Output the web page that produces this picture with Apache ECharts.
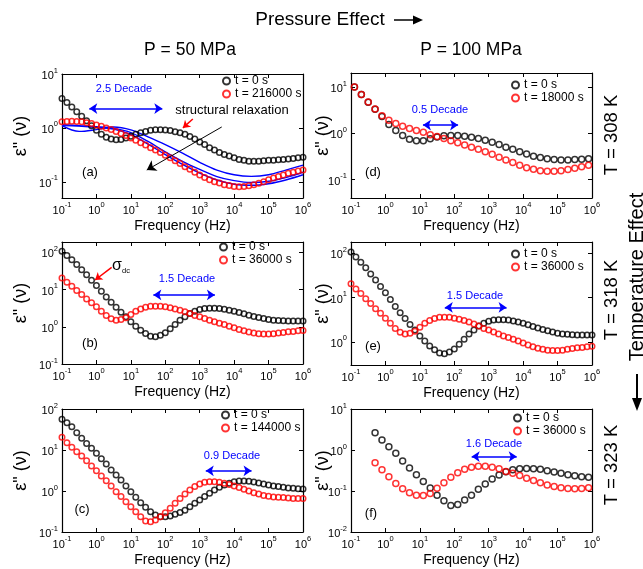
<!DOCTYPE html>
<html>
<head>
<meta charset="utf-8">
<title>Dielectric loss vs frequency</title>
<script src="https://cdn.jsdelivr.net/npm/echarts@6.0.0/dist/echarts.min.js"></script>
<style>
html, body { margin: 0; padding: 0; background: #fff; }
#main { width: 643px; height: 569px; }
</style>
</head>
<body>
<div id="main"></div>
<script>
var FONT = 'Liberation Sans, Arial, Helvetica, sans-serif';

// frequency grids (Hz)
var freq7 = [0.1, 0.139, 0.193, 0.268, 0.373, 0.518, 0.72,
  1, 1.39, 1.93, 2.68, 3.73, 5.18, 7.2,
  10, 13.9, 19.3, 26.8, 37.3, 51.8, 72,
  100, 139, 193, 268, 373, 518, 720,
  1000, 1390, 1930, 2680, 3730, 5180, 7200,
  1e4, 13900, 19300, 26800, 37300, 51800, 72000,
  1e5, 139000, 193000, 268000, 373000, 518000, 720000, 1e6];
var freq5 = [0.126, 0.2, 0.316, 0.5, 0.794, 1.26, 2, 3.16, 5, 7.94,
  12.6, 20, 31.6, 50, 79.4, 126, 200, 316, 500, 794,
  1260, 2000, 3160, 5000, 7940, 12600, 20000, 31600, 50000, 79400,
  126000, 200000, 316000, 500000, 794000];
var freqF = freq5.slice(3);
var freqFit = [0.1, 0.316, 1, 3.16, 10, 31.6, 100, 316, 1000, 3160, 1e4, 31600, 1e5, 316000, 1e6];

// (a) P = 50 MPa, T = 308 K
var a_t0 = [3.5, 2.95, 2.45, 2.0, 1.65, 1.35, 1.1, 0.9, 0.76, 0.67,
  0.62, 0.6, 0.61, 0.65, 0.7, 0.76, 0.81, 0.86, 0.9, 0.92,
  0.92, 0.91, 0.89, 0.85, 0.81, 0.76, 0.69, 0.62, 0.55, 0.49,
  0.43, 0.39, 0.35, 0.32, 0.3, 0.28, 0.26, 0.25, 0.24, 0.24,
  0.24, 0.245, 0.25, 0.25, 0.255, 0.26, 0.265, 0.27, 0.28, 0.285];
var a_t216000 = [1.3, 1.32, 1.33, 1.32, 1.3, 1.25, 1.2, 1.13, 1.07, 1.0,
  0.93, 0.86, 0.79, 0.72, 0.65, 0.59, 0.53, 0.48, 0.43, 0.39,
  0.35, 0.31, 0.28, 0.245, 0.218, 0.19, 0.17, 0.15, 0.134, 0.12,
  0.109, 0.1, 0.095, 0.088, 0.085, 0.082, 0.081, 0.082, 0.084, 0.088,
  0.094, 0.1, 0.109, 0.117, 0.125, 0.134, 0.144, 0.15, 0.159, 0.165];
var a_mid1 = [1.1, 0.86, 0.93, 1.04, 0.92, 0.68, 0.49, 0.34, 0.23, 0.165, 0.135, 0.126, 0.135, 0.165, 0.204];
var a_mid2 = [1.15, 1.1, 1.05, 0.98, 0.82, 0.56, 0.36, 0.24, 0.17, 0.125, 0.105, 0.097, 0.102, 0.12, 0.15];
var a_mid3 = [1.1, 1.08, 1.02, 0.95, 0.75, 0.5, 0.32, 0.21, 0.145, 0.108, 0.09, 0.086, 0.092, 0.108, 0.135];

// (d) P = 100 MPa, T = 308 K
var d_t0 = [10, 6.9, 4.7, 3.3, 2.3, 1.55, 1.15, 0.9, 0.74, 0.69,
  0.69, 0.76, 0.83, 0.88, 0.9, 0.89, 0.86, 0.82, 0.77, 0.71,
  0.64, 0.57, 0.5, 0.45, 0.4, 0.355, 0.32, 0.3, 0.28, 0.27,
  0.266, 0.266, 0.27, 0.275, 0.28];
var d_t18000 = [10, 6.9, 4.75, 3.34, 2.39, 1.92, 1.62, 1.42, 1.26, 1.15,
  1.05, 0.93, 0.85, 0.77, 0.69, 0.62, 0.56, 0.5, 0.45, 0.4,
  0.35, 0.305, 0.265, 0.235, 0.204, 0.181, 0.167, 0.156, 0.151, 0.151,
  0.156, 0.164, 0.175, 0.19, 0.204];

// (b) P = 50 MPa, T = 318 K  (panel (e) shows the same curves)
var b_t0 = [107, 83, 63, 47, 34, 25, 17.8, 12.8, 9.0, 6.3,
  4.55, 3.37, 2.47, 1.85, 1.36, 1.04, 0.81, 0.66, 0.56, 0.54,
  0.59, 0.69, 0.88, 1.15, 1.51, 1.85, 2.28, 2.63, 2.91, 3.1,
  3.16, 3.16, 3.1, 2.97, 2.8, 2.63, 2.42, 2.23, 2.05, 1.89,
  1.78, 1.67, 1.57, 1.51, 1.48, 1.45, 1.42, 1.42, 1.42, 1.42];
var b_t36000 = [20.5, 15.7, 12.3, 9.4, 7.35, 5.6, 4.4, 3.43, 2.63, 2.01,
  1.64, 1.51, 1.57, 1.74, 2.14, 2.63, 3.03, 3.36, 3.58, 3.58,
  3.58, 3.43, 3.23, 3.03, 2.8, 2.52, 2.28, 2.01, 1.85, 1.67,
  1.51, 1.36, 1.25, 1.15, 1.04, 0.94, 0.85, 0.78, 0.72, 0.68,
  0.65, 0.64, 0.64, 0.65, 0.68, 0.705, 0.735, 0.75, 0.78, 0.8];

// (c) P = 50 MPa, T = 323 K
var c_t0 = [56, 46, 37, 26.5, 19.3, 14.5, 11.0, 8.3, 6.15, 4.56,
  3.25, 2.45, 1.85, 1.32, 0.96, 0.7, 0.52, 0.4, 0.31, 0.26,
  0.237, 0.237, 0.246, 0.27, 0.3, 0.34, 0.415, 0.5, 0.6, 0.73,
  0.88, 1.06, 1.23, 1.4, 1.54, 1.69, 1.75, 1.75, 1.72, 1.66,
  1.57, 1.48, 1.4, 1.32, 1.28, 1.23, 1.18, 1.16, 1.14, 1.12];
var c_t144000 = [20.4, 15.1, 11.6, 9.1, 7.14, 5.5, 4.07, 3.13, 2.32, 1.79,
  1.32, 0.96, 0.73, 0.55, 0.415, 0.313, 0.237, 0.185, 0.179, 0.196,
  0.237, 0.296, 0.378, 0.5, 0.66, 0.845, 1.06, 1.28, 1.48, 1.63,
  1.69, 1.69, 1.63, 1.54, 1.45, 1.32, 1.21, 1.1, 1.0, 0.91,
  0.845, 0.78, 0.74, 0.71, 0.7, 0.69, 0.675, 0.66, 0.66, 0.66];

// (f) P = 100 MPa, T = 323 K
var f_t0 = [2.65, 1.76, 1.2, 0.83, 0.54, 0.363, 0.25, 0.171, 0.118, 0.079,
  0.058, 0.044, 0.047, 0.06, 0.079, 0.111, 0.148, 0.196, 0.245, 0.295,
  0.33, 0.35, 0.356, 0.35, 0.337, 0.313, 0.29, 0.27, 0.25, 0.236,
  0.223, 0.215];
var f_t36000 = [0.49, 0.33, 0.223, 0.153, 0.113, 0.091, 0.079, 0.078, 0.087, 0.116,
  0.159, 0.215, 0.279, 0.337, 0.377, 0.4, 0.4, 0.377, 0.35, 0.3,
  0.27, 0.24, 0.205, 0.18, 0.16, 0.14, 0.128, 0.12, 0.115, 0.113,
  0.115, 0.12];

// panel layout: a, d, b, e, c, f
var grids = [
  {left: 62, top: 74, width: 241, height: 124},
  {left: 351, top: 73, width: 241, height: 125},
  {left: 62, top: 242, width: 241, height: 122},
  {left: 351, top: 242, width: 241, height: 123},
  {left: 62, top: 409, width: 241, height: 123},
  {left: 351, top: 409, width: 241, height: 123}
];
var yRanges = [[0.05, 10], [0.04, 20], [0.1, 190], [0.3, 180], [0.1, 100], [0.01, 10]];

function pairs(xs, ys) {
  return ys.map(function (y, i) { return [xs[i], y]; });
}

function pow10(v) {
  var e = Math.log10(v), r = Math.round(e);
  if (Math.abs(e - r) > 1e-3) return '';
  return '{b|10}{s|' + r + '}';
}
var tickRich = {
  b: {fontSize: 11, lineHeight: 15, verticalAlign: 'bottom', color: '#000', fontFamily: FONT},
  s: {fontSize: 7.5, verticalAlign: 'top', color: '#000', fontFamily: FONT}
};
var frameLine = {onZero: false, lineStyle: {color: '#000', width: 1.2}};
var frameTick = {inside: true, length: 4, lineStyle: {color: '#000', width: 1}};

var xAxes = [], yAxes = [];
grids.forEach(function (g, k) {
  xAxes.push({
    gridIndex: k, type: 'log', logBase: 10, min: 0.1, max: 1e6, position: 'bottom',
    axisLine: frameLine, axisTick: frameTick, splitLine: {show: false},
    axisLabel: {formatter: pow10, rich: tickRich, margin: 3, color: '#000'},
    name: 'Frequency (Hz)', nameLocation: 'middle', nameGap: 21, nameMoveOverlap: false,
    nameTextStyle: {fontSize: 14, color: '#000', fontFamily: FONT}
  });
  xAxes.push({
    gridIndex: k, type: 'log', logBase: 10, min: 0.1, max: 1e6, position: 'top',
    axisLine: frameLine, axisTick: frameTick, splitLine: {show: false}, axisLabel: {show: false}
  });
  yAxes.push({
    gridIndex: k, type: 'log', logBase: 10, min: yRanges[k][0], max: yRanges[k][1], position: 'left',
    axisLine: frameLine, axisTick: frameTick, splitLine: {show: false},
    axisLabel: {formatter: pow10, rich: tickRich, margin: 4, color: '#000'},
    name: 'ε" (ν)', nameLocation: 'middle', nameGap: (k % 2 === 0) ? 32 : 19, nameMoveOverlap: false,
    nameTextStyle: {fontSize: 18, color: '#000', fontFamily: FONT}
  });
  yAxes.push({
    gridIndex: k, type: 'log', logBase: 10, min: yRanges[k][0], max: yRanges[k][1], position: 'right',
    axisLine: frameLine, axisTick: frameTick, splitLine: {show: false}, axisLabel: {show: false}
  });
});

function dots(name, xs, ys, color, k, size, marks) {
  var s = {
    name: name, type: 'scatter', xAxisIndex: 2 * k, yAxisIndex: 2 * k,
    data: pairs(xs, ys), symbol: 'circle', symbolSize: size,
    itemStyle: {color: 'rgba(255,255,255,0)', borderColor: color, borderWidth: 1.5},
    emphasis: {disabled: true}, z: 3
  };
  if (marks) {
    s.markLine = {silent: true, animation: false, label: {show: false}, emphasis: {disabled: true}, data: marks};
  }
  return s;
}
function fit(xs, ys) {
  return {
    type: 'line', xAxisIndex: 0, yAxisIndex: 0, data: pairs(xs, ys), showSymbol: false, symbol: 'none',
    smooth: 0.35, lineStyle: {color: '#0000ff', width: 1.4}, emphasis: {disabled: true}, z: 2
  };
}
function arrow(from, to, color, both, width, size) {
  var ls = {color: color, width: width, type: 'solid'};
  return [
    {coord: from, symbol: both ? 'arrow' : 'none', symbolSize: size, lineStyle: ls},
    {coord: to, symbol: 'arrow', symbolSize: size, lineStyle: ls}
  ];
}
var BLUE = '#0000ff', RED = '#ff0000', BLACK = '#000000';

var series = [
  fit(freqFit, a_mid1), fit(freqFit, a_mid2), fit(freqFit, a_mid3),
  dots('t = 0 s', freq7, a_t0, BLACK, 0, 5.5, [arrow([4360, 1.04], [29, 0.165], BLACK, false, 1, 9)]),
  dots('t = 216000 s', freq7, a_t216000, RED, 0, 5.5, [
    arrow([0.62, 2.28], [82, 2.28], BLUE, true, 1.5, 8),
    arrow([630, 1.46], [325, 1.0], RED, false, 1.5, 7)
  ]),
  dots('t = 0 s', freq5, d_t0, BLACK, 1, 6),
  dots('t = 18000 s', freq5, d_t18000, RED, 1, 6, [arrow([12.3, 1.5], [129, 1.5], BLUE, true, 1.5, 8)]),
  dots('t = 0 s', freq7, b_t0, BLACK, 2, 5.5, [arrow([2.77, 39.6], [0.91, 18.1], RED, false, 1.5, 7)]),
  dots('t = 36000 s', freq7, b_t36000, RED, 2, 5.5, [arrow([45, 7.2], [2760, 7.2], BLUE, true, 1.5, 8)]),
  dots('t = 0 s', freq7, b_t0, BLACK, 3, 5.5),
  dots('t = 36000 s', freq7, b_t36000, RED, 3, 5.5, [arrow([53, 6.0], [3300, 6.0], BLUE, true, 1.5, 8)]),
  dots('t = 0 s', freq7, c_t0, BLACK, 4, 5.5),
  dots('t = 144000 s', freq7, c_t144000, RED, 4, 5.5, [arrow([1500, 3.1], [32000, 3.1], BLUE, true, 1.5, 8)]),
  dots('t = 0 s', freqF, f_t0, BLACK, 5, 6),
  dots('t = 36000 s', freqF, f_t36000, RED, 5, 6, [arrow([320, 0.69], [6500, 0.69], BLUE, true, 1.5, 8)])
];

var legends = [
  {data: ['t = 0 s', 't = 216000 s'], left: 222, top: 75},
  {data: ['t = 0 s', 't = 18000 s'], left: 511, top: 79},
  {data: ['t = 0 s', 't = 36000 s'], left: 219, top: 241},
  {data: ['t = 0 s', 't = 36000 s'], left: 511, top: 248},
  {data: ['t = 0 s', 't = 144000 s'], left: 221, top: 409},
  {data: ['t = 0 s', 't = 36000 s'], left: 513, top: 412}
].map(function (l) {
  return Object.assign({
    orient: 'vertical', itemWidth: 7, itemHeight: 7, itemGap: 1, padding: 0, selectedMode: false,
    textStyle: {fontSize: 12, color: '#000', fontFamily: FONT}
  }, l);
});

function txt(x, y, text, size, color, rot) {
  return {
    type: 'text', x: x, y: y, rotation: rot || 0, silent: true, z: 10,
    style: {text: text, fontSize: size, fontFamily: FONT, fill: color || '#000', align: 'center', verticalAlign: 'middle'}
  };
}
var R90 = Math.PI / 2;
var graphics = [
  txt(320, 20, 'Pressure Effect', 19),
  {type: 'line', silent: true, shape: {x1: 394, y1: 20, x2: 416, y2: 20}, style: {stroke: '#000', lineWidth: 1.5}},
  {type: 'polygon', silent: true, shape: {points: [[413, 15.5], [423, 20], [413, 24.5]]}, style: {fill: '#000'}},
  txt(190, 50, 'P = 50 MPa', 17.5),
  txt(471, 50, 'P = 100 MPa', 17.5),
  txt(612, 135, 'T = 308 K', 18.5, '#000', R90),
  txt(612, 300, 'T = 318 K', 18.5, '#000', R90),
  txt(612, 465, 'T = 323 K', 18.5, '#000', R90),
  txt(637, 277, 'Temperature Effect', 20, '#000', R90),
  {type: 'line', silent: true, shape: {x1: 637, y1: 374, x2: 637, y2: 402}, style: {stroke: '#000', lineWidth: 2}},
  {type: 'polygon', silent: true, shape: {points: [[632, 398], [637, 411], [642, 398]]}, style: {fill: '#000'}},
  txt(124, 89, '2.5 Decade', 11, BLUE),
  txt(232, 110, 'structural relaxation', 13),
  txt(90, 172, '(a)', 13),
  txt(440, 110, '0.5 Decade', 11, BLUE),
  txt(373, 172, '(d)', 13),
  txt(187, 279, '1.5 Decade', 11, BLUE),
  txt(90, 343, '(b)', 13),
  txt(475, 296, '1.5 Decade', 11, BLUE),
  txt(373, 346, '(e)', 13),
  txt(232, 456, '0.9 Decade', 11, BLUE),
  txt(82, 509, '(c)', 13),
  txt(494, 444, '1.6 Decade', 11, BLUE),
  txt(371, 513, '(f)', 13),
  {
    type: 'text', x: 121, y: 266, silent: true, z: 10,
    style: {
      text: '{g|σ}{d|dc}', align: 'center', verticalAlign: 'middle',
      rich: {
        g: {fontSize: 16, fontFamily: FONT, lineHeight: 18},
        d: {fontSize: 7.5, fontFamily: FONT, verticalAlign: 'bottom'}
      }
    }
  }
];

var myChart = echarts.init(document.getElementById('main'), null, {renderer: 'canvas'});
myChart.setOption({
  animation: false,
  backgroundColor: '#ffffff',
  textStyle: {fontFamily: FONT},
  grid: grids.map(function (g) { return Object.assign({containLabel: false, outerBoundsMode: 'none'}, g); }),
  xAxis: xAxes,
  yAxis: yAxes,
  legend: legends,
  series: series,
  graphic: graphics
});
</script>
</body>
</html>
